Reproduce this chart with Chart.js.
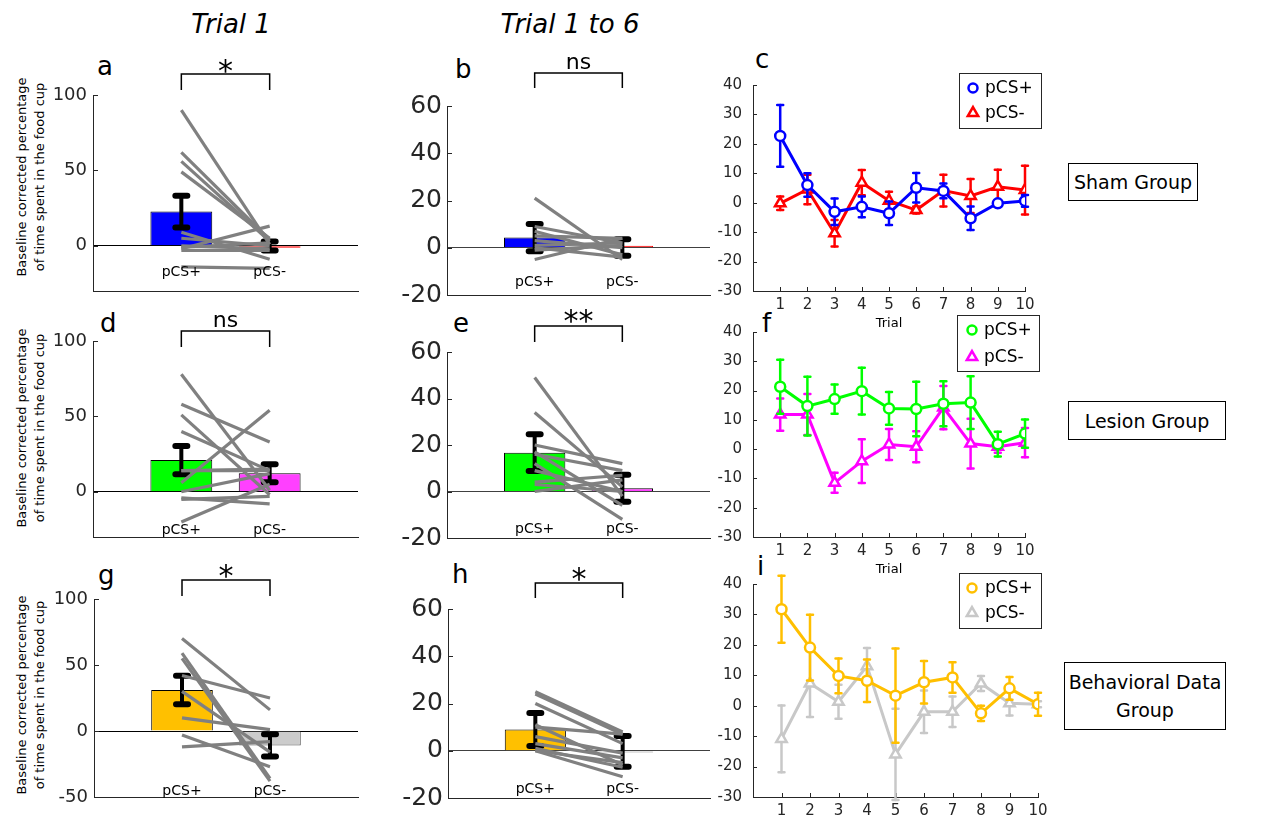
<!DOCTYPE html>
<html>
<head>
<meta charset="utf-8">
<title>Food cup responses</title>
<script src="https://cdn.jsdelivr.net/npm/chart.js@4.4.1/dist/chart.umd.min.js"></script>
<style>
  body { margin: 0; background: #fff; }
  #page { position: relative; width: 1266px; height: 818px; overflow: hidden; font-family: "DejaVu Sans", sans-serif; color: #000; }
  #page canvas, .txt, .grp, .ylab { position: absolute; }
  .txt { white-space: nowrap; }
  .grp { border: 1px solid #000; display: flex; align-items: center; justify-content: center; text-align: center; font-size: 19px; line-height: 28px; box-sizing: border-box; }
  .ylab { transform: translate(-50%, -50%) rotate(-90deg); text-align: center; font-size: 13px; line-height: 18px; white-space: nowrap; }
</style>
</head>
<body>
<div id="page"></div>
<script>
// categories and x positions
const barLabels = ['pCS+', 'pCS-'];
const barPos = [1, 2];
const trials = [1, 2, 3, 4, 5, 6, 7, 8, 9, 10];

// tick labels
const t1Ticks = [0, 50, 100];
const t1TicksBehav = [-50, 0, 50, 100];
const t16Ticks = [-20, 0, 20, 40, 60];
const trialTicks = [-30, -20, -10, 0, 10, 20, 30, 40];

// a: sham, trial 1
const shamT1Mean = [22.7, -0.1];
const shamT1Err = [10.5, 3];
const shamT1Plus = [90, 62, 56, 49, 9, 5, 0, -1, -2, -3, -14];
const shamT1Minus = [1, 4, 3, 5, -9, 0, -2, 2, 13, -3, -15];

// b: sham, trials 1-6
const shamT16Mean = [4.3, 0.1];
const shamT16Err = [5.8, 3.5];
const shamT16Plus = [21, 9, 7, 5, 3, 1, 0, -1, -5];
const shamT16Minus = [-5, 2, -3, 4, 0, 2, -4, 1, 4];

// d: lesion, trial 1
const lesionT1Mean = [21, 12.3];
const lesionT1Err = [9.3, 6];
const lesionT1Plus = [78, 58, 51, 40, 14, 14, 6, 0, -4, -5, -20];
const lesionT1Minus = [1, 33, -2, 14, 14, 15, 54, 12, -8, -3, 5];

// e: lesion, trials 1-6
const lesionT16Mean = [16.7, 1.4];
const lesionT16Err = [7.9, 5.8];
const lesionT16Plus = [49, 34, 20, 17, 16, 12, 9, 4, 3, 0];
const lesionT16Minus = [-2, 2, 12, -6, 9, -12, 0, 7, 0, 5];

// g: behavioral, trial 1
const behavT1Mean = [31, -10.9];
const behavT1Err = [10.8, 8.5];
const behavT1Plus = [70, 59, 55, 42, 30, 10, -3, -12];
const behavT1Minus = [16, -36, -38, 25, -16, 1, -27, -8];

// h: behavioral, trials 1-6
const behavT16Mean = [9, -0.3];
const behavT16Err = [7, 6.5];
const behavT16Plus = [25, 24, 20, 11, 10, 6, 3, 1, 0, 0];
const behavT16Minus = [8, 7, 3, -6, 7, -1, -3, -7, -11, -5];

// c: sham, per trial
const shamPlus = [22.7, 6.0, -3.1, -1.4, -3.6, 5.1, 4.0, -5.3, -0.2, 0.6];
const shamPlusErr = [10.5, 4, 4.5, 3.5, 4, 5, 2.5, 4, 1, 2];
const shamMinus = [-0.2, 4.5, -10.4, 6.8, 0.7, -2.5, 4.1, 2.3, 5.4, 4.3];
const shamMinusErr = [2.3, 5, 4.5, 4.3, 3, 1.2, 5.4, 5.8, 5.8, 8.3];

// f: lesion, per trial
const lesionPlus = [21.3, 14.7, 17.1, 19.8, 13.9, 13.7, 15.5, 15.9, 1.7, 5.3];
const lesionPlusErr = [9.2, 10, 5, 8, 5.6, 9.3, 7.7, 9, 4.2, 4.8];
const lesionMinus = [11.8, 11.8, -11.5, -4.1, 1.6, 0.8, 14.2, 1.9, 0.8, 2.2];
const lesionMinusErr = [5.5, 7, 3.4, 7.5, 5.3, 5.3, 7.4, 8.5, 2, 5];

// i: behavioral, per trial
const behavPlus = [31.7, 19.1, 9.8, 8.2, 3.3, 7.7, 9.3, -2.5, 5.7, 0.5];
const behavPlusErr = [11, 10.8, 5.7, 7, 15.5, 7, 5, 2.5, 3.7, 3.8];
const behavMinus = [-10.9, 7.3, 1.3, 13, -16, -2, -2, 7.3, 0.8, 0.5];
const behavMinusErr = [11, 11, 5.6, 6, 15, 7, 5, 2.5, 4, 1];

Chart.defaults.font.family = '"DejaVu Sans", sans-serif';
Chart.defaults.color = '#262626';
Chart.defaults.animation = false;
Chart.defaults.plugins.legend.display = false;
Chart.defaults.plugins.tooltip.enabled = false;

const page = document.getElementById('page');

function addCanvas(left, top, w, h) {
    const c = document.createElement('canvas');
    c.width = w;
    c.height = h;
    c.style.left = left + 'px';
    c.style.top = top + 'px';
    c.style.width = w + 'px';
    c.style.height = h + 'px';
    page.appendChild(c);
    return c;
}

function addText(text, x, baseline, size, style) {
    const d = document.createElement('div');
    d.className = 'txt';
    d.textContent = text;
    d.style.fontSize = size + 'px';
    d.style.lineHeight = size + 'px';
    d.style.left = x + 'px';
    d.style.top = (baseline - 0.846 * size) + 'px';
    if (style) Object.assign(d.style, style);
    page.appendChild(d);
}

// error bars: under the markers for line plots, over the bars for bar plots
function drawErrors(chart, index) {
    const ds = chart.data.datasets[index];
    const meta = chart.getDatasetMeta(index);
    const ys = chart.scales.y;
    const ctx = chart.ctx;
    const thick = ds.errMode === 'bar';
    const cap = thick ? 6 : 3;
    ctx.save();
    ctx.strokeStyle = ds.errColor;
    ctx.lineCap = 'round';
    meta.data.forEach((el, i) => {
        const v = ds.data[i].y, e = ds.errs[i];
        const hi = ys.getPixelForValue(v + e), lo = ys.getPixelForValue(v - e);
        ctx.lineWidth = thick ? 4 : 2.5;
        ctx.beginPath();
        ctx.moveTo(el.x, hi);
        ctx.lineTo(el.x, lo);
        ctx.stroke();
        ctx.lineWidth = thick ? 6 : 2.5;
        ctx.beginPath();
        ctx.moveTo(el.x - cap, hi); ctx.lineTo(el.x + cap, hi);
        ctx.moveTo(el.x - cap, lo); ctx.lineTo(el.x + cap, lo);
        ctx.stroke();
    });
    ctx.restore();
}

const errorBars = {
    id: 'errorBars',
    beforeDatasetDraw(chart, args) {
        if (chart.data.datasets[args.index].errMode === 'line') drawErrors(chart, args.index);
    },
    afterDatasetDraw(chart, args) {
        if (chart.data.datasets[args.index].errMode === 'bar') drawErrors(chart, args.index);
    }
};

// small ticks pointing into the plot
const innerTicks = {
    id: 'innerTicks',
    beforeDatasetsDraw(chart, args, o) {
        if (!o.len) return;
        const ctx = chart.ctx, a = chart.chartArea;
        ctx.save();
        ctx.strokeStyle = '#262626';
        ctx.lineWidth = 1;
        ctx.beginPath();
        if (o.y) {
            const s = chart.scales.y;
            s.ticks.forEach(t => {
                const y = Math.round(s.getPixelForValue(t.value)) + 0.5;
                ctx.moveTo(a.left, y); ctx.lineTo(a.left + o.len, y);
            });
        }
        if (o.x) {
            const s = chart.scales.x;
            s.ticks.forEach(t => {
                const x = Math.round(s.getPixelForValue(t.value)) + 0.5;
                ctx.moveTo(x, a.bottom); ctx.lineTo(x, a.bottom - o.len);
            });
        }
        ctx.stroke();
        ctx.restore();
    }
};

// significance bracket and the pCS+/pCS- labels inside the bar plots
const panelMarks = {
    id: 'panelMarks',
    afterDraw(chart, args, o) {
        if (!o.sig) return;
        const ctx = chart.ctx, xs = chart.scales.x;
        const x1 = xs.getPixelForValue(barPos[0]), x2 = xs.getPixelForValue(barPos[1]);
        ctx.save();
        ctx.strokeStyle = '#000';
        ctx.lineWidth = 1.5;
        ctx.beginPath();
        ctx.moveTo(x1, o.legY - o.top);
        ctx.lineTo(x1, o.barY - o.top);
        ctx.lineTo(x2, o.barY - o.top);
        ctx.lineTo(x2, o.legY - o.top);
        ctx.stroke();
        ctx.fillStyle = '#000';
        ctx.textAlign = 'center';
        ctx.textBaseline = 'alphabetic';
        ctx.font = o.sigSize + 'px "DejaVu Sans"';
        ctx.fillText(o.sig, (x1 + x2) / 2, o.sigBase - o.top);
        ctx.font = '14px "DejaVu Sans"';
        ctx.textBaseline = 'middle';
        barLabels.forEach((t, i) => ctx.fillText(t, xs.getPixelForValue(barPos[i]), o.labelY - o.top));
        ctx.restore();
    }
};

function marker(ctx, style, x, y, r) {
    ctx.beginPath();
    if (style === 'triangle') {
        for (let k = 0; k < 3; k++) {
            const a = k * 2 * Math.PI / 3;
            const px = x + Math.sin(a) * r, py = y - Math.cos(a) * r;
            if (k === 0) ctx.moveTo(px, py); else ctx.lineTo(px, py);
        }
        ctx.closePath();
    } else {
        ctx.arc(x, y, r, 0, Math.PI * 2);
    }
    ctx.fill();
    ctx.stroke();
}

const boxLegend = {
    id: 'boxLegend',
    afterDraw(chart, args, o) {
        if (!o.box) return;
        const ctx = chart.ctx;
        const x1 = o.box[0] - o.left, y1 = o.box[1] - o.top;
        const x2 = o.box[2] - o.left, y2 = o.box[3] - o.top;
        ctx.save();
        ctx.fillStyle = '#fff';
        ctx.fillRect(x1, y1, x2 - x1, y2 - y1);
        ctx.strokeStyle = '#262626';
        ctx.lineWidth = 1;
        ctx.strokeRect(Math.round(x1) + 0.5, Math.round(y1) + 0.5, x2 - x1, y2 - y1);
        ctx.font = '17px "DejaVu Sans"';
        ctx.textBaseline = 'middle';
        ctx.textAlign = 'left';
        chart.data.datasets.forEach((ds, i) => {
            const y = o.rowY[i] - o.top;
            ctx.fillStyle = '#fff';
            ctx.strokeStyle = ds.borderColor;
            ctx.lineWidth = 2.5;
            marker(ctx, ds.pointStyle, o.markX - o.left, y, ds.pointStyle === 'triangle' ? 6 : 4.5);
            ctx.fillStyle = '#000';
            ctx.fillText(ds.label, o.textX - o.left, y + 1);
        });
        ctx.restore();
    }
};

Chart.register(errorBars, innerTicks, panelMarks, boxLegend);

function barPanel(p) {
    const padL = 70, padT = 50, padR = 10, padB = 25;
    const [L, T, R, B] = p.area;
    const left = L - padL, top = T - padT;
    const cv = addCanvas(left, top, R - L + padL + padR, B - T + padT + padB);
    const datasets = p.plus.map((v, i) => ({
        type: 'line',
        data: [{ x: barPos[0], y: v }, { x: barPos[1], y: p.minus[i] }],
        borderColor: '#808080',
        borderWidth: 3.2,
        pointRadius: 0,
        order: 0
    }));
    datasets.push({
        type: 'bar',
        data: p.mean.map((v, i) => ({ x: barPos[i], y: v })),
        errs: p.err,
        errMode: 'bar',
        errColor: '#000',
        backgroundColor: p.fill,
        borderColor: p.edge,
        borderWidth: 1,
        minBarLength: 2,
        barPercentage: 0.7,
        categoryPercentage: 1,
        order: 1
    });
    new Chart(cv, {
        type: 'bar',
        data: { datasets },
        options: {
            responsive: false,
            devicePixelRatio: 1,
            layout: { padding: { left: 0, top: padT, right: padR, bottom: padB } },
            scales: {
                x: {
                    type: 'linear', min: 0, max: 3, offset: false,
                    afterBuildTicks: s => { s.ticks = barPos.map(v => ({ value: v })); },
                    afterFit: s => { s.height = 0; },
                    ticks: { display: false },
                    grid: { display: false },
                    border: { color: '#262626' }
                },
                y: {
                    min: p.yMin, max: p.yMax,
                    afterBuildTicks: s => { s.ticks = p.yTicks.map(v => ({ value: v })); },
                    afterFit: s => { s.width = padL; },
                    ticks: { font: { size: p.tickSize }, padding: p.tickPad, color: '#262626' },
                    grid: {
                        drawTicks: false,
                        color: c => (c.tick && c.tick.value === 0) ? p.zero : 'rgba(0,0,0,0)'
                    },
                    border: { color: '#262626' }
                }
            },
            plugins: {
                panelMarks: {
                    left, top, sig: p.sig, sigSize: p.sigSize, sigBase: p.sigBase,
                    barY: p.barY, legY: p.legY, labelY: p.labelY
                },
                innerTicks: { y: true, len: 5 }
            }
        }
    });
}

function linePanel(p) {
    const padL = 50, padT = 30, padR = 30, padB = 45;
    const [L, T, R, B] = p.area;
    const left = L - padL, top = T - padT;
    const cv = addCanvas(left, top, R - L + padL + padR, B - T + padT + padB);
    const series = (vals, errs, color, style, label) => ({
        type: 'line',
        label,
        data: trials.map((t, i) => ({ x: t, y: vals[i] })),
        errs,
        errMode: 'line',
        errColor: color,
        borderColor: color,
        borderWidth: 3,
        pointStyle: style,
        pointRadius: style === 'triangle' ? 6 : 5,
        pointBackgroundColor: '#fff',
        pointBorderColor: color,
        pointBorderWidth: 2.5
    });
    new Chart(cv, {
        type: 'line',
        data: {
            datasets: [
                series(p.plus, p.plusErr, p.colors[0], 'circle', barLabels[0]),
                series(p.minus, p.minusErr, p.colors[1], 'triangle', barLabels[1])
            ]
        },
        options: {
            responsive: false,
            devicePixelRatio: 1,
            layout: { padding: { left: 0, top: padT, right: padR, bottom: 0 } },
            scales: {
                x: {
                    type: 'linear', min: 0, max: 10,
                    afterBuildTicks: s => { s.ticks = trials.map(v => ({ value: v })); },
                    afterFit: s => { s.height = padB; },
                    ticks: { font: { size: 15 }, padding: -3, color: '#262626', maxRotation: 0, autoSkip: false },
                    grid: { display: false },
                    border: { color: '#262626' },
                    title: { display: true, text: 'Trial', font: { size: 13 }, color: '#000', padding: { top: 0, bottom: 5 } }
                },
                y: {
                    min: -30, max: 40,
                    afterBuildTicks: s => { s.ticks = trialTicks.map(v => ({ value: v })); },
                    afterFit: s => { s.width = padL; },
                    ticks: { font: { size: 15 }, padding: 3, color: '#262626' },
                    grid: { display: false },
                    border: { color: '#262626' }
                }
            },
            plugins: {
                boxLegend: { left, top, box: p.legendBox, rowY: p.legendRows, markX: p.legendMarkX, textX: p.legendTextX },
                innerTicks: { x: true, y: true, len: 4 }
            }
        }
    });
}

// column titles and panel letters
addText('Trial 1', 231, 33, 26, { fontStyle: 'italic', transform: 'translateX(-50%)' });
addText('Trial 1 to 6', 570, 33, 26, { fontStyle: 'italic', transform: 'translateX(-50%)' });
[['a', 97, 75], ['b', 455, 78], ['c', 755, 68], ['d', 100, 332], ['e', 453, 332],
 ['f', 762, 332], ['g', 98, 584], ['h', 452, 583], ['i', 757, 575]]
    .forEach(([t, x, y]) => addText(t, x, y, 26));

[177, 428, 695].forEach(cy => {
    const d = document.createElement('div');
    d.className = 'ylab';
    d.style.left = '31px';
    d.style.top = cy + 'px';
    d.innerHTML = 'Baseline corrected percentage<br>of time spent in the food cup';
    page.appendChild(d);
});

[['Sham Group', 1068, 163, 130, 38], ['Lesion Group', 1068, 401, 158, 39],
 ['Behavioral Data<br>Group', 1064, 662, 162, 68]].forEach(([t, x, y, w, h]) => {
    const d = document.createElement('div');
    d.className = 'grp';
    Object.assign(d.style, { left: x + 'px', top: y + 'px', width: w + 'px', height: h + 'px' });
    d.innerHTML = t;
    page.appendChild(d);
});

// bar panels
barPanel({ area: [93, 95, 358, 291], yMin: -30, yMax: 100, yTicks: t1Ticks, tickSize: 18, tickPad: 6,
    mean: shamT1Mean, err: shamT1Err, plus: shamT1Plus, minus: shamT1Minus,
    fill: ['#0000ff', '#ff0000'], edge: ['#000000', '#ff0000'], zero: '#000',
    sig: '*', sigSize: 30, sigBase: 81, barY: 74, legY: 90, labelY: 272 });
barPanel({ area: [447, 106, 710, 295], yMin: -20, yMax: 60, yTicks: t16Ticks, tickSize: 25, tickPad: 5,
    mean: shamT16Mean, err: shamT16Err, plus: shamT16Plus, minus: shamT16Minus,
    fill: ['#0000ff', '#ff0000'], edge: ['#000000', '#ff0000'], zero: '#404040',
    sig: 'ns', sigSize: 22, sigBase: 69, barY: 73, legY: 88, labelY: 282 });
barPanel({ area: [93, 341, 358, 537], yMin: -30, yMax: 100, yTicks: t1Ticks, tickSize: 18, tickPad: 6,
    mean: lesionT1Mean, err: lesionT1Err, plus: lesionT1Plus, minus: lesionT1Minus,
    fill: ['#00ff00', '#ff40ff'], edge: ['#000000', '#000000'], zero: '#000',
    sig: 'ns', sigSize: 22, sigBase: 327, barY: 331, legY: 347, labelY: 530 });
barPanel({ area: [447, 352, 710, 538], yMin: -20, yMax: 60, yTicks: t16Ticks, tickSize: 25, tickPad: 5,
    mean: lesionT16Mean, err: lesionT16Err, plus: lesionT16Plus, minus: lesionT16Minus,
    fill: ['#00ff00', '#ff40ff'], edge: ['#000000', '#000000'], zero: '#404040',
    sig: '**', sigSize: 30, sigBase: 331, barY: 326, legY: 342, labelY: 529 });
barPanel({ area: [94, 599, 358, 797], yMin: -50, yMax: 100, yTicks: t1TicksBehav, tickSize: 18, tickPad: 6,
    mean: behavT1Mean, err: behavT1Err, plus: behavT1Plus, minus: behavT1Minus,
    fill: ['#ffc000', '#cccccc'], edge: ['#000000', '#555555'], zero: '#000',
    sig: '*', sigSize: 30, sigBase: 586, barY: 580, legY: 596, labelY: 791 });
barPanel({ area: [448, 609, 710, 798], yMin: -20, yMax: 60, yTicks: t16Ticks, tickSize: 25, tickPad: 5,
    mean: behavT16Mean, err: behavT16Err, plus: behavT16Plus, minus: behavT16Minus,
    fill: ['#ffc000', '#cccccc'], edge: ['#000000', '#cccccc'], zero: '#404040',
    sig: '*', sigSize: 30, sigBase: 589, barY: 583, legY: 598, labelY: 789 });

// trial-by-trial panels
linePanel({ area: [753, 85, 1025, 291], plus: shamPlus, plusErr: shamPlusErr, minus: shamMinus, minusErr: shamMinusErr,
    colors: ['#0000ff', '#ff0000'], legendBox: [959, 73, 1041, 128], legendRows: [88, 113], legendMarkX: 973, legendTextX: 985 });
linePanel({ area: [753, 332, 1025, 537], plus: lesionPlus, plusErr: lesionPlusErr, minus: lesionMinus, minusErr: lesionMinusErr,
    colors: ['#00ff00', '#ff00ff'], legendBox: [957, 315, 1039, 371], legendRows: [330, 357], legendMarkX: 972, legendTextX: 984 });
linePanel({ area: [753, 584, 1038, 797], plus: behavPlus, plusErr: behavPlusErr, minus: behavMinus, minusErr: behavMinusErr,
    colors: ['#ffbf00', '#c8c8c8'], legendBox: [959, 573, 1041, 628], legendRows: [588, 613], legendMarkX: 972, legendTextX: 985 });
</script>
</body>
</html>
